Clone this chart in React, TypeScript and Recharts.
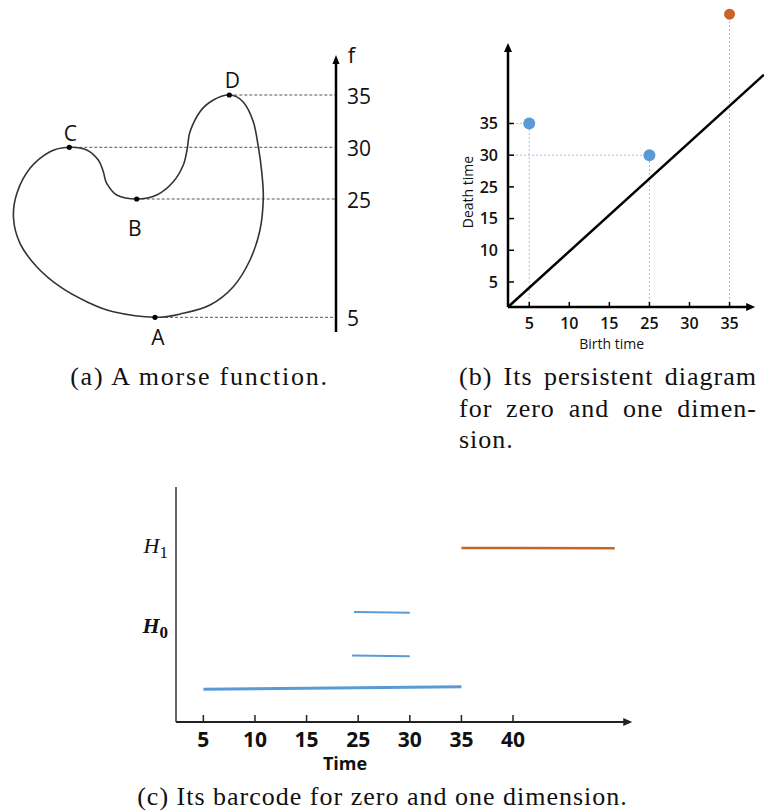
import React from 'react';
import { ComposedChart, Line, Scatter, XAxis, YAxis, ReferenceLine } from 'recharts';

// ---------- (a) morse function on a closed curve ----------
// outline traced clockwise from the peak D; y is the height above the foot of the f axis
const OUTLINE_X = [229.3, 243, 253.3, 258.3, 261.7, 263.3, 260, 250, 233.3, 210, 183.3, 155, 113.3, 86.7, 60, 36.7, 20, 13.5, 17, 30, 50, 69.3, 86.7, 98.3, 103.3, 106.7, 116.7, 136.7, 156.7, 173.3, 183.3, 187.3, 190, 200, 213.3];
const OUTLINE_Y = [237, 230.3, 210.3, 185.3, 160.3, 133.7, 102, 72, 45.3, 27, 18.7, 14.7, 20.3, 30.3, 45.3, 65.3, 88.7, 114, 139, 163.7, 180.3, 184.7, 182, 172, 160.3, 148.7, 137, 133, 137, 150.3, 167, 183.7, 200.3, 220.3, 232];

const CRITICAL_NAMES = ['A', 'B', 'C', 'D'];
const CRITICAL_X = [155, 136.7, 69.3, 229.3];
const CRITICAL_Y = [14.7, 133, 184.7, 237];
const CRITICAL_F = [5, 25, 30, 35];

// ---------- (b) persistence diagram ----------
const DIAGRAM_TICKS = [5, 10, 15, 25, 30, 35];
const H0_BIRTH = [5, 25];
const H0_DEATH = [35, 30];
const H1_BIRTH = [35];
const H1_DEATH = [Infinity];
const DIAGONAL = [{ x: 0.47, y: 0.21 }, { x: 6.86, y: 7.54 }];

// ---------- (c) barcode ----------
const BARCODE_TICKS = [5, 10, 15, 25, 30, 35, 40];
const BAR_START = [5, 23.8, 24.2, 35];
const BAR_END = [35, 30, 30, Infinity];
const BAR_DIM = [0, 0, 0, 1];
const BAR_LANE_START = [1.01, 2.05, 3.39, 5.37];
const BAR_LANE_END = [1.09, 2.03, 3.37, 5.36];
const DIM_LANES = [2.96, 5.43];

const BLUE = '#5b9bd5';
const ORANGE = '#c9632a';
const GUIDE = '#9dc3e6';
const SANS = '"Open Sans", sans-serif';

// the hand-drawn axes space their labels evenly, so values are placed by tick rank
function toRank(v: number, ticks: number[], infRank: number) {
  if (!isFinite(v)) return infRank;
  for (let i = 0; i < ticks.length - 1; i++) {
    if (v <= ticks[i + 1]) return i + 1 + (v - ticks[i]) / (ticks[i + 1] - ticks[i]);
  }
  return ticks.length;
}

// closed Catmull-Rom spline, used as a custom curve for the outline
const closedSpline = (context: any) => {
  let pts: number[][] = [];
  return {
    areaStart() {},
    areaEnd() {},
    lineStart() { pts = []; },
    point(x: number, y: number) { pts.push([+x, +y]); },
    lineEnd() {
      const n = pts.length;
      if (n < 3) return;
      context.moveTo(pts[0][0], pts[0][1]);
      for (let i = 0; i < n; i++) {
        const p0 = pts[(i + n - 1) % n], p1 = pts[i], p2 = pts[(i + 1) % n], p3 = pts[(i + 2) % n];
        context.bezierCurveTo(
          p1[0] + (p2[0] - p0[0]) / 6, p1[1] + (p2[1] - p0[1]) / 6,
          p2[0] - (p3[0] - p1[0]) / 6, p2[1] - (p3[1] - p1[1]) / 6,
          p2[0], p2[1]);
      }
      context.closePath();
    },
  };
};

// reference line drawn with an arrow head at its second end
function arrowShape(head: number, headWidth: number, width: number, color = '#000') {
  return (p: any) => {
    const { x1, y1, x2, y2 } = p;
    const len = Math.hypot(x2 - x1, y2 - y1) || 1;
    const ux = (x2 - x1) / len, uy = (y2 - y1) / len;
    const bx = x2 - ux * head, by = y2 - uy * head;
    const hw = headWidth / 2;
    return (
      <g>
        <line x1={x1} y1={y1} x2={bx + ux} y2={by + uy} stroke={color} strokeWidth={width} />
        <polygon points={`${x2},${y2} ${bx - uy * hw},${by + ux * hw} ${bx + uy * hw},${by - ux * hw}`} fill={color} />
      </g>
    );
  };
}

const LABEL_OFFSET: Record<string, number[]> = { A: [3, 20], B: [-2, 29], C: [1, -14], D: [3, -15] };

function CriticalDot(p: any) {
  const name = p.payload.name;
  const [dx, dy] = LABEL_OFFSET[name];
  return (
    <g>
      <circle cx={p.cx} cy={p.cy} r={2.6} fill="#000" />
      <text x={p.cx + dx} y={p.cy + dy} dy="0.36em" textAnchor="middle" fontSize={21} fontFamily={SANS} fill="#111">{name}</text>
    </g>
  );
}

function FTick(p: any) {
  const i = CRITICAL_Y.indexOf(p.payload.value);
  return (
    <text x={p.x} y={p.y} dy={9} textAnchor="start" fontSize={21} fontFamily={SANS} fill="#111">{CRITICAL_F[i]}</text>
  );
}

function MorsePanel() {
  const outline = OUTLINE_X.map((x, i) => ({ x, y: OUTLINE_Y[i] }));
  const critical = CRITICAL_NAMES.map((name, i) => ({ name, x: CRITICAL_X[i], y: CRITICAL_Y[i] }));
  return (
    <ComposedChart width={400} height={360} data={outline} margin={{ top: 55, right: 0, bottom: 28, left: 0 }}>
      <XAxis type="number" dataKey="x" domain={[0, 336]} hide />
      <YAxis type="number" dataKey="y" orientation="right" domain={[0, 277]} width={64}
        ticks={CRITICAL_Y} interval={0} axisLine={false} tickLine={false} tickSize={0} tickMargin={11} tick={<FTick />} />
      {critical.map((c) => (
        <ReferenceLine key={c.name} segment={[{ x: c.x, y: c.y }, { x: 336, y: c.y }]}
          stroke="#555" strokeWidth={1} strokeDasharray="3 2" ifOverflow="visible" />
      ))}
      <ReferenceLine segment={[{ x: 336, y: 0 }, { x: 336, y: 277 }]} ifOverflow="visible" shape={arrowShape(9, 7, 2.5)} />
      <Line dataKey="y" type={closedSpline as any} stroke="#333" strokeWidth={1.6} dot={false} activeDot={false} isAnimationActive={false} />
      <Scatter data={critical} dataKey="y" shape={CriticalDot} isAnimationActive={false} />
    </ComposedChart>
  );
}

// ---------- (b) ----------
const DIAGRAM_INF = 9.45;
const diagramRank = (v: number) => toRank(v, DIAGRAM_TICKS, DIAGRAM_INF);
const DIAGRAM_RANKS = DIAGRAM_TICKS.map((_, i) => i + 1);

function DiagramXTick(p: any) {
  const axisY = p.y - 10;
  return (
    <g>
      <line x1={p.x} x2={p.x} y1={axisY} y2={axisY - 5} stroke="#000" strokeWidth={1.5} />
      <text x={p.x} y={p.y} dy="0.72em" textAnchor="middle" fontSize={16} fontWeight={600} fontFamily={SANS} fill="#111">
        {DIAGRAM_TICKS[Math.round(p.payload.value) - 1]}
      </text>
    </g>
  );
}

function DiagramYTick(p: any) {
  const axisX = p.x + 10;
  return (
    <g>
      <line x1={axisX} x2={axisX + 6} y1={p.y} y2={p.y} stroke="#000" strokeWidth={1.5} />
      <text x={p.x} y={p.y} dy="0.36em" textAnchor="end" fontSize={16} fontWeight={600} fontFamily={SANS} fill="#111">
        {DIAGRAM_TICKS[Math.round(p.payload.value) - 1]}
      </text>
    </g>
  );
}

function DiagramPanel() {
  const h0 = H0_BIRTH.map((b, i) => ({ x: diagramRank(b), y: diagramRank(H0_DEATH[i]), finite: true }));
  const h1 = H1_BIRTH.map((b, i) => ({ x: diagramRank(b), y: diagramRank(H1_DEATH[i]), finite: isFinite(H1_DEATH[i]) }));
  const x0 = 0.47, y0 = 0.21;
  return (
    <ComposedChart width={324} height={360} margin={{ top: 4, right: 0, bottom: 18, left: 28 }}>
      <XAxis type="number" dataKey="x" domain={[x0, 6.86]} ticks={DIAGRAM_RANKS} interval={0}
        axisLine={false} tickLine={false} tickSize={0} tickMargin={10} height={35} tick={<DiagramXTick />} />
      <YAxis type="number" dataKey="y" domain={[y0, 9.77]} ticks={DIAGRAM_RANKS} interval={0}
        axisLine={false} tickLine={false} tickSize={0} tickMargin={10} width={40} tick={<DiagramYTick />} />
      {[...h0, ...h1].map((pt, i) => (
        <ReferenceLine key={`v${i}`} segment={[{ x: pt.x, y: y0 }, { x: pt.x, y: pt.y }]}
          stroke={GUIDE} strokeWidth={1} strokeDasharray="2 2" ifOverflow="visible" />
      ))}
      {[...h0, ...h1].filter((pt) => pt.finite).map((pt, i) => (
        <ReferenceLine key={`h${i}`} segment={[{ x: x0, y: pt.y }, { x: pt.x, y: pt.y }]}
          stroke={GUIDE} strokeWidth={1} strokeDasharray="2 2" ifOverflow="visible" />
      ))}
      <ReferenceLine segment={[{ x: x0, y: y0 }, { x: x0, y: 8.54 }]} ifOverflow="visible" shape={arrowShape(9, 8, 2.5)} />
      <ReferenceLine segment={[{ x: x0, y: y0 }, { x: 6.64, y: y0 }]} ifOverflow="visible" shape={arrowShape(9, 8, 2.5)} />
      <Line data={DIAGONAL} dataKey="y" type="linear" stroke="#000" strokeWidth={2.5} dot={false} activeDot={false} isAnimationActive={false} />
      <Scatter data={h0} dataKey="y" isAnimationActive={false}
        shape={(p: any) => <circle cx={p.cx} cy={p.cy} r={6} fill={BLUE} />} />
      <Scatter data={h1} dataKey="y" isAnimationActive={false}
        shape={(p: any) => <circle cx={p.cx} cy={p.cy} r={5.5} fill={ORANGE} />} />
    </ComposedChart>
  );
}

// ---------- (c) ----------
const BARCODE_INF = 8.97;
const barcodeRank = (v: number) => toRank(v, BARCODE_TICKS, BARCODE_INF);
const BARCODE_RANKS = BARCODE_TICKS.map((_, i) => i + 1);

function BarcodeXTick(p: any) {
  const axisY = p.y - 10;
  return (
    <g>
      <line x1={p.x} x2={p.x} y1={axisY - 7} y2={axisY + 1} stroke="#222" strokeWidth={1.5} />
      <text x={p.x} y={p.y} dy="0.72em" textAnchor="middle" fontSize={21} fontWeight={700} fontFamily={SANS} fill="#111">
        {BARCODE_TICKS[Math.round(p.payload.value) - 1]}
      </text>
    </g>
  );
}

function DimTick(p: any) {
  const dim = DIM_LANES.indexOf(p.payload.value);
  return (
    <text x={p.x} y={p.y} dy="0.32em" textAnchor="end" fontSize={22} fontStyle="italic"
      fontWeight={dim === 0 ? 700 : 400} fontFamily='"Liberation Serif", serif' fill="#111">
      H<tspan fontSize={17} dy={5} fontStyle="normal">{dim}</tspan>
    </text>
  );
}

function BarcodePanel() {
  const x0 = 0.47;
  return (
    <ComposedChart width={764} height={300} margin={{ top: 17, right: 124, bottom: 8, left: 116 }}>
      <XAxis type="number" dataKey="x" domain={[x0, 9.46]} ticks={BARCODE_RANKS} interval={0}
        axisLine={false} tickLine={false} tickSize={0} tickMargin={10} height={40} tick={<BarcodeXTick />} />
      <YAxis type="number" dataKey="y" domain={[0, 7.25]} ticks={DIM_LANES} interval={0}
        axisLine={{ stroke: '#333', strokeWidth: 1.5 }} tickLine={false} tickSize={0} tickMargin={8} width={60} tick={<DimTick />} />
      <ReferenceLine segment={[{ x: x0, y: 0 }, { x: 9.31, y: 0 }]} ifOverflow="visible" shape={arrowShape(9, 8, 2, '#222')} />
      {BAR_START.map((s, i) => (
        <Line key={i} data={[{ x: barcodeRank(s), y: BAR_LANE_START[i] }, { x: barcodeRank(BAR_END[i]), y: BAR_LANE_END[i] }]}
          dataKey="y" type="linear" stroke={BAR_DIM[i] === 1 ? ORANGE : BLUE}
          strokeWidth={i === 0 ? 3 : BAR_DIM[i] === 1 ? 2.5 : 2} dot={false} activeDot={false} isAnimationActive={false} />
      ))}
    </ComposedChart>
  );
}

function Note({ x, y, size, weight = 400, rotate = 0, children }: any) {
  return (
    <div style={{
      position: 'absolute', left: x, top: y, transform: `translate(-50%, -50%) rotate(${rotate}deg)`,
      fontFamily: SANS, fontSize: size, fontWeight: weight, lineHeight: 1, whiteSpace: 'nowrap', color: '#111',
    }}>{children}</div>
  );
}

const caption: React.CSSProperties = {
  position: 'absolute', fontFamily: '"Liberation Serif", serif', fontSize: 26, letterSpacing: 1,
  lineHeight: '32px', whiteSpace: 'nowrap', color: '#111',
};

export default function App() {
  return (
    <div style={{ position: 'absolute', left: 0, top: 0, width: 764, height: 811, background: '#fff', overflow: 'hidden' }}>
      <div style={{ position: 'absolute', left: 0, top: 0 }}><MorsePanel /></div>
      <div style={{ position: 'absolute', left: 440, top: 0 }}><DiagramPanel /></div>
      <div style={{ position: 'absolute', left: 0, top: 470 }}><BarcodePanel /></div>

      <Note x={351.5} y={54} size={22}>f</Note>
      <Note x={611.7} y={343.5} size={14}>Birth time</Note>
      <Note x={467.5} y={192} size={14} rotate={-90}>Death time</Note>
      <Note x={345} y={763} size={18} weight={700}>Time</Note>

      <div style={{ ...caption, left: 0, width: 399, top: 361, textAlign: 'center', letterSpacing: 1.8 }}>(a) A morse function.</div>
      <div style={{ ...caption, left: 459, width: 298, top: 361, textAlign: 'justify', textAlignLast: 'justify' }}>(b) Its persistent diagram</div>
      <div style={{ ...caption, left: 459, width: 298, top: 393, textAlign: 'justify', textAlignLast: 'justify' }}>for zero and one dimen-</div>
      <div style={{ ...caption, left: 459, width: 298, top: 424 }}>sion.</div>
      <div style={{ ...caption, left: 0, width: 765, top: 781, textAlign: 'center' }}>(c) Its barcode for zero and one dimension.</div>
    </div>
  );
}
